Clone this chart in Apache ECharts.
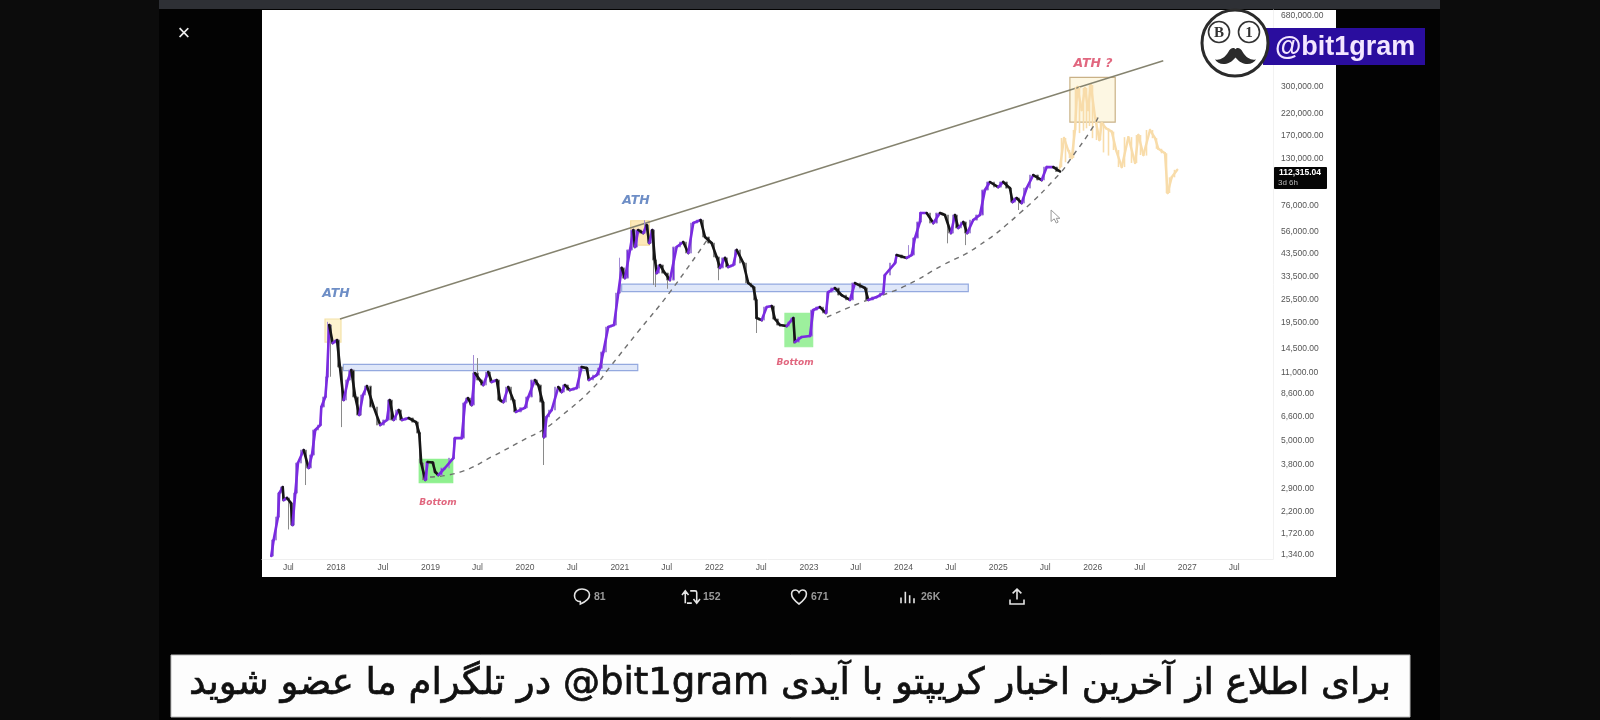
<!DOCTYPE html>
<html><head><meta charset="utf-8">
<style>html,body{margin:0;padding:0;background:#000}#c{width:1600px;height:720px;filter:blur(0.7px)}</style>
<script src="https://cdn.jsdelivr.net/npm/echarts@6/dist/echarts.min.js"></script>
</head><body><div id="c"></div>
<script>
// ---- price history: decimal year + close
const years=[2017.316,2017.341,2017.387,2017.401,2017.437,2017.447,2017.482,2017.524,2017.54,2017.57,2017.598,2017.659,2017.711,2017.746,2017.781,2017.834,2017.845,2017.887,2017.905,2017.929,2017.965,2018.011,2018.042,2018.081,2018.127,2018.162,2018.204,2018.246,2018.285,2018.328,2018.399,2018.468,2018.539,2018.568,2018.61,2018.663,2018.698,2018.768,2018.846,2018.88,2018.901,2018.944,2018.969,2019.022,2019.05,2019.081,2019.152,2019.24,2019.258,2019.329,2019.364,2019.395,2019.434,2019.469,2019.522,2019.557,2019.61,2019.646,2019.699,2019.734,2019.769,2019.821,2019.874,2019.903,2019.998,2020.033,2020.103,2020.138,2020.185,2020.199,2020.227,2020.28,2020.35,2020.386,2020.421,2020.473,2020.544,2020.597,2020.65,2020.674,2020.756,2020.791,2020.826,2020.878,2020.939,2020.984,2021.02,2021.055,2021.108,2021.143,2021.161,2021.195,2021.248,2021.284,2021.312,2021.344,2021.372,2021.39,2021.425,2021.477,2021.53,2021.601,2021.671,2021.724,2021.777,2021.855,2021.901,2021.971,2022.024,2022.059,2022.112,2022.147,2022.2,2022.236,2022.306,2022.358,2022.411,2022.44,2022.447,2022.5,2022.553,2022.606,2022.64,2022.693,2022.764,2022.799,2022.834,2022.852,2022.922,2023.01,2023.045,2023.116,2023.179,2023.204,2023.274,2023.345,2023.433,2023.486,2023.592,2023.627,2023.715,2023.785,2023.803,2023.909,2023.927,2024.032,2024.085,2024.12,2024.173,2024.18,2024.244,2024.314,2024.385,2024.437,2024.501,2024.543,2024.578,2024.631,2024.673,2024.736,2024.807,2024.86,2024.913,2025.0,2025.053,2025.124,2025.152,2025.195,2025.248,2025.301,2025.371,2025.46,2025.513,2025.583,2025.654];
const closes=[1325,1593,2079,2741,2939,2528,2590,2442,1895,2741,3875,4503,3660,4252,5677,6012,7404,8310,10468,19076,15490,16049,11750,8021,10112,11341,8310,6748,8501,9428,7404,6012,6372,8021,6372,7152,6372,6520,6220,5480,3875,3190,3920,3900,3490,3375,3660,4100,5170,5170,7750,8210,7574,10960,10112,9541,11080,9880,10112,8021,7840,9320,8021,7000,7340,8310,10112,9541,7840,5230,6600,7150,9320,8800,9541,9000,9210,11750,11600,10112,10709,11600,13970,18640,19076,27600,36900,32800,45400,57158,46970,57158,55170,60531,49150,57158,40400,34760,38140,34760,32061,46970,49730,43800,61930,64100,52720,49150,41850,36900,41400,37280,38140,45400,39020,30980,29590,25500,20700,20190,23480,23760,20450,19076,18850,19760,20700,15670,16610,16800,22680,23480,21910,27920,29250,26973,25500,30980,29250,25500,26350,27600,33980,39020,42809,41400,42809,52100,62700,69500,69500,61930,69500,67940,55170,67940,58500,62700,55170,64100,67940,90700,99500,93800,99500,92700,78900,82700,78000,92700,107825,101800,118200,118200,112315];
// wicks that stand out from the bodies, keyed by decimal year
const lowWicks={2017.524:1800,2017.711:3007,2017.965:10500,2018.081:5870,2020.199:3790,2021.372:30275,2021.39:29600,2021.53:29000,2022.059:32000,2022.447:17400,2022.852:15400,2024.501:49000,2024.673:48000,2025.248:72000};
const highWicks={2019.469:13491,2019.522:13030,2021.02:41500,2021.284:64000,2024.085:48000,2017.929:19800};
// ---- projected path (pale orange)
const futureYears=[2025.654,2025.696,2025.739,2025.778,2025.812,2025.837,2025.883,2025.918,2025.95,2025.979,2026.024,2026.07,2026.095,2026.14,2026.201,2026.246,2026.306,2026.376,2026.447,2026.482,2026.535,2026.605,2026.658,2026.693,2026.763,2026.791,2026.834,2026.893];
const futureCloses=[118200,165300,143900,131200,181300,297900,228300,294500,228300,304816,210000,161500,196500,185000,178000,143900,118200,167000,124000,171122,135836,181300,165000,146000,138600,87600,105000,114500];
const futureLowWicks={2025.696:118000,2025.739:125000,2025.837:185000,2025.883:175000,2025.918:180000,2025.95:185000,2025.979:190000,2026.024:165000,2026.14:140000,2026.201:135000,2026.376:128000,2026.482:130000,2026.605:135000};
// ---- drawn lines
const trendYears=[2018.042,2026.745];
const trendValues=[20450,403400];
const curve1Years=[2018.994,2019.311,2019.66,2020.019,2020.188,2020.368,2020.717,2020.896,2021.182,2021.53,2021.922];
const curve1Values=[3300,3490,4200,5170,5680,6590,9220,11750,17400,27900,50900];
const curve2Years=[2023.19,2023.539,2023.993,2024.416,2024.775,2025.23,2025.654,2025.758,2026.001,2026.076];
const curve2Values=[20900,24600,29600,38140,47000,69500,110000,128300,187500,220600];
// ---- zones: ATH boxes, bottom boxes, resistance bands
const zoneFrom=[2017.884,2021.115,2025.758,2018.88,2022.746,2018.077,2021.02];
const zoneTo=[2018.053,2021.312,2026.237,2019.234,2023.039,2021.19,2024.684];
const zoneHigh=[20450,63600,333000,4045,21840,12120,30630];
const zoneLow=[15670,48049,198800,3088,14850,11260,28060];
const zoneFill=['#fdf3d0','#fde9b8','rgba(252,243,215,0.7)','#8ef08e','#9df09d','#dfe7f9','#dfe7f9'];
const zoneEdge=['#f3e2a8','#f5dd9e','#c9b186','#8ef08e','#9df09d','#94a9df','#94a9df'];
// ---- text notes
const noteYears=[2018.0,2021.171,2026.002,2019.078,2022.852];
const noteValues=[27300,79800,388400,2442,12300];
const noteTexts=['ATH','ATH','ATH ?','Bottom','Bottom'];
const noteColors=['#4a72b8','#4a72b8','#d9415f','#d9415f','#d9415f'];
const noteSizes=[12.5,12.5,12.5,9,9];
// ---- axis ticks
const priceTicks=[680000,300000,220000,170000,130000,76000,56000,43500,33500,25500,19500,14500,11000,8600,6600,5000,3800,2900,2200,1720,1340];
const labelYears=[2018,2019,2020,2021,2022,2023,2024,2025,2026,2027];
const caption='\u202Bبرای اطلاع از آخرین اخبار کریپتو با آیدی \u200E@bit1gram در تلگرام ما عضو شوید\u202C';
const stats=['81','152','671','26K'];

const ms=y=>(y-1970)*365.25*864e5;
// each candle sits at the middle of the stretch it covers
const candles=years.map((y,i)=>{const p=i?years[i-1]:y,o=i?closes[i-1]:closes[0],c=closes[i];
  return [ms((p+y)/2),o,c,Math.min(o,c,lowWicks[y]||Infinity),Math.max(o,c,highWicks[y]||0)];});
const future=futureYears.map((y,i)=>{const p=i?futureYears[i-1]:y,o=i?futureCloses[i-1]:112315,c=futureCloses[i];
  return [ms((p+y)/2),o,c,Math.min(o,c,futureLowWicks[y]||Infinity),Math.max(o,c)];});
const segs=(ys,vs)=>ys.slice(1).map((y,i)=>[ms(ys[i]),vs[i],ms(y),vs[i+1]]);
const tickTimes=[Date.UTC(2017,6,1)];
labelYears.forEach(y=>{tickTimes.push(Date.UTC(y,0,1));tickTimes.push(Date.UTC(y,6,1));});
const pair=(a,b)=>a.map((y,i)=>[ms(y),b[i]]);

// decorative vector shapes (page furniture, not chart data)
const line={fill:'none',stroke:'#e4e4e4',lineWidth:1.6};
const shapes=[
 ['M0 0 L0 11 L3 8.5 L5 12.5 L6.8 11.6 L5 8 L8.5 8 Z',1051,210,9,13,{fill:'#fff',stroke:'#999',lineWidth:1}],
 ['M0 30 C8 34 22 28 30 14 C34 6 42 2 46 8 C50 2 58 6 62 14 C70 28 84 34 92 30 C84 44 62 46 46 26 C30 46 8 44 0 30Z',1213,48,45,16,{fill:'#2b2b2b'}],
 ['M10 1 C4 1 1 5 1 9 C1 13 4 16 8 16 L8 19 C13 17 19 14 19 8 C19 4 15 1 10 1Z',574,589,16,15,line],
 ['M5 18 L5 4 M1 8 L5 3 L9 8 M11 3 L17 3 C18 3 19 4 19 5 L19 17 M15 13 L19 18 L23 13 M13 18 L7 18',682,590,18,14,line],
 ['M10 18 C3 13 1 9 1 6 C1 3 3 1 6 1 C8 1 9 2 10 4 C11 2 12 1 14 1 C17 1 19 3 19 6 C19 9 17 13 10 18Z',791,590,16,14,line],
 ['M1 18 L1 10 M7 18 L7 2 M13 18 L13 7 M19 18 L19 11',901,591,13,13,line],
 ['M10 14 L10 2 M5 7 L10 2 L15 7 M2 14 L2 19 L18 19 L18 14',1010,589,14,15,line]
];
const statText=(t,x)=>({type:'text',z:5,x,y:597,style:{text:t,fill:'#9a9a9a',font:'bold 10.5px "Liberation Sans"',textVerticalAlign:'middle'}});

const chart=echarts.init(document.getElementById('c'),null,{renderer:'canvas',width:1600,height:720});
chart.setOption({
  animation:false,backgroundColor:'#0c0c0c',
  grid:{left:262,right:327,top:10,bottom:161},
  xAxis:{type:'value',scale:true,min:ms(2017.218),max:ms(2027.905),splitLine:{show:false},
    axisLine:{show:true,lineStyle:{color:'#efefef'}},axisTick:{show:false},
    axisLabel:{customValues:tickTimes,margin:4,fontSize:8.5,fontFamily:'Liberation Sans',color:'#555',hideOverlap:false,
      formatter:v=>{const d=new Date(v);return d.getUTCMonth()===6?'Jul':String(d.getUTCFullYear());}}},
  yAxis:{type:'log',logBase:10,position:'right',min:1280,max:725000,splitLine:{show:false},
    axisLine:{show:true,lineStyle:{color:'#f2f2f2'}},axisTick:{show:false},
    axisLabel:{customValues:priceTicks,margin:8,fontSize:8.5,fontFamily:'Liberation Sans',color:'#555',hideOverlap:false,
      formatter:v=>Number(v).toLocaleString('en-US',{minimumFractionDigits:2,maximumFractionDigits:2})}},
  graphic:{elements:[
    {type:'rect',z:-3,shape:{x:159,y:0,width:1281,height:720},style:{fill:'#030303'}},
    {type:'rect',z:-2,shape:{x:159,y:0,width:1281,height:9},style:{fill:'#2e3035'}},
    {type:'rect',z:-1,shape:{x:262,y:10,width:1074,height:567},style:{fill:'#ffffff'}},
    {type:'text',z:5,x:184,y:34,style:{text:'×',fill:'#f0f0f0',font:'22px "Liberation Sans"',textAlign:'center',textVerticalAlign:'middle'}},
    // price tag
    {type:'rect',z:50,shape:{x:1274,y:167,width:53,height:22,r:1},style:{fill:'#050505'}},
    {type:'text',z:51,x:1300,y:173,style:{text:'112,315.04',fill:'#fff',font:'bold 8.5px "Liberation Sans"',textAlign:'center',textVerticalAlign:'middle'}},
    {type:'text',z:51,x:1278,y:183,style:{text:'3d 6h',fill:'#bbb',font:'8px "Liberation Sans"',textVerticalAlign:'middle'}},
    // watermark
    {type:'rect',z:60,shape:{x:1263,y:28,width:162,height:37},style:{fill:'#2a0d9e'}},
    {type:'text',z:61,x:1275,y:48,style:{text:'@bit1gram',fill:'#f3e6ff',font:'bold 27px "Liberation Sans"',textVerticalAlign:'middle'}},
    {type:'circle',z:62,shape:{cx:1235,cy:43,r:33},style:{fill:'#fff',stroke:'#2b2b2b',lineWidth:3}},
    {type:'circle',z:63,shape:{cx:1219,cy:32,r:10.5},style:{fill:'#fff',stroke:'#333',lineWidth:1.6}},
    {type:'circle',z:63,shape:{cx:1249,cy:32,r:10.5},style:{fill:'#fff',stroke:'#333',lineWidth:1.6}},
    {type:'text',z:64,x:1219,y:33,style:{text:'B',fill:'#333',font:'bold 15px "Liberation Serif"',textAlign:'center',textVerticalAlign:'middle'}},
    {type:'text',z:64,x:1249,y:33,style:{text:'1',fill:'#333',font:'bold 15px "Liberation Serif"',textAlign:'center',textVerticalAlign:'middle'}},
    // engagement row
    statText(stats[0],594),statText(stats[1],703),statText(stats[2],811),statText(stats[3],921),
    // caption band
    {type:'rect',z:5,shape:{x:171,y:655,width:1239,height:62},style:{fill:'#fdfdfd',stroke:'#bbb',lineWidth:1}},
    {type:'text',z:6,x:790,y:684,style:{text:caption,fill:'#111',stroke:'#111',lineWidth:0.7,font:'37px "DejaVu Sans"',textAlign:'center',textVerticalAlign:'middle'}}
  ]},
  series:[
    {name:'Zones',type:'line',data:[],silent:true,z:1,
      markArea:{silent:true,z:1,data:zoneFrom.map((f,i)=>[
        {coord:[ms(f),zoneHigh[i]],itemStyle:{color:zoneFill[i],borderColor:zoneEdge[i],borderWidth:1.2}},
        {coord:[ms(zoneTo[i]),zoneLow[i]]}])}},
    {name:'Trend',type:'line',data:pair(trendYears,trendValues),symbol:'none',silent:true,z:3,lineStyle:{color:'#85836f',width:1.4}},
    {name:'ProjectionPath',type:'custom',z:3,silent:true,data:segs(futureYears,futureCloses),
      encode:{x:[0,2],y:[1,3]},clip:true,
      renderItem:(p,api)=>{const a=api.coord([api.value(0),api.value(1)]),b=api.coord([api.value(2),api.value(3)]);
        return {type:'line',shape:{x1:a[0],y1:a[1],x2:b[0],y2:b[1]},style:{stroke:'#f8dcaa',lineWidth:2.4,lineCap:'round',lineJoin:'round'}};}},
    {name:'Projection',type:'candlestick',z:3,silent:true,barWidth:1,data:future,encode:{x:0,y:[1,2,3,4]},
      itemStyle:{color:'#f8dcaa',color0:'#f8dcaa',borderColor:'#f8dcaa',borderColor0:'#f8dcaa',borderWidth:1.6}},
    {name:'Curve1',type:'line',data:pair(curve1Years,curve1Values),smooth:true,symbol:'none',silent:true,z:5,lineStyle:{color:'#707070',width:1.4,type:[5,5]}},
    {name:'Curve2',type:'line',data:pair(curve2Years,curve2Values),smooth:true,symbol:'none',silent:true,z:5,lineStyle:{color:'#707070',width:1.4,type:[5,5]}},
    {name:'BTC',type:'candlestick',z:6,silent:true,barWidth:2,data:candles,encode:{x:0,y:[1,2,3,4]},
      itemStyle:{color:'#7a2be0',color0:'#161616',borderColor:'#a48bd6',borderColor0:'#8a8a8a',borderWidth:1}},
    {name:'PricePath',type:'custom',z:7,silent:true,data:segs(years,closes),
      encode:{x:[0,2],y:[1,3]},clip:true,
      renderItem:(p,api)=>{const a=api.coord([api.value(0),api.value(1)]),b=api.coord([api.value(2),api.value(3)]);
        return {type:'line',shape:{x1:a[0],y1:a[1],x2:b[0],y2:b[1]},
          style:{stroke:api.value(3)>=api.value(1)?'#7a2be0':'#161616',lineWidth:2.6,lineCap:'round'}};}},
    {name:'Notes',type:'scatter',z:8,silent:true,symbolSize:0,
      data:noteYears.map((y,i)=>({value:[ms(y),noteValues[i]],label:{show:true,position:'inside',formatter:noteTexts[i],
        color:noteColors[i],fontSize:noteSizes[i],fontStyle:'italic',fontWeight:'bold',fontFamily:'DejaVu Sans'}})) },
    {name:'Decor',type:'custom',coordinateSystem:'none',z:70,silent:true,data:shapes.map((s,i)=>[i]),
      renderItem:(p,api)=>{const s=shapes[api.value(0)];
        return {type:'path',shape:{pathData:s[0],x:s[1],y:s[2],width:s[3],height:s[4]},style:s[5]};}}
  ]
});
</script></body></html>
